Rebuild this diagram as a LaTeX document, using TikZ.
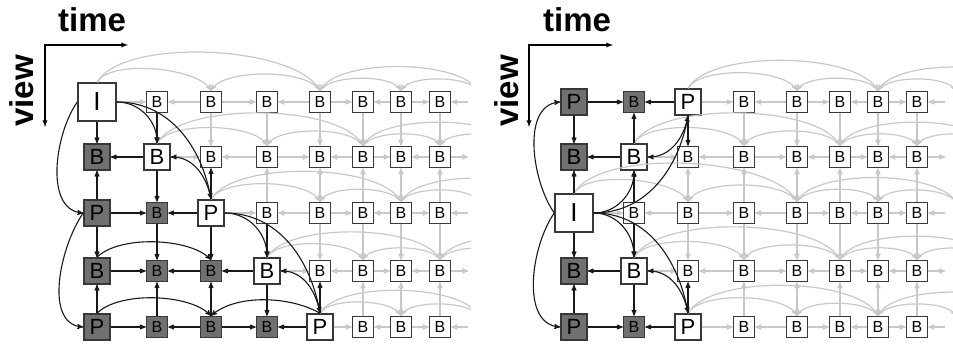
\documentclass[tikz,border=0pt]{standalone}
\usepackage{fontspec}
\setmainfont{Liberation Sans}
\usetikzlibrary{arrows}

\definecolor{lightline}{HTML}{C8C8C8}
\definecolor{framegrey}{HTML}{383838}
\definecolor{donefill}{HTML}{707070}

\tikzset{
  boxframe/.style={draw=framegrey, line width=1.5pt, fill=white, inner sep=0pt},
  smallframe/.style={boxframe, minimum size=21pt, font=\fontsize{16}{16}\selectfont},
  midframe/.style={boxframe, minimum size=26pt, font=\fontsize{22}{22}\selectfont},
  bigframe/.style={boxframe, minimum size=38pt, font=\fontsize{26}{26}\selectfont},
  greysmall/.style={smallframe, fill=donefill},
  greymid/.style={midframe, fill=donefill},
  ghost/.style={minimum size=21pt, inner sep=0pt},
  ref/.style={->, >=stealth', line width=1.1pt, draw=black!90},
  bgref/.style={->, >=stealth', line width=1.2pt, draw=lightline},
  axisline/.style={<->, >=latex, line width=1.3pt},
  axislabel/.style={font=\fontsize{33}{33}\selectfont\bfseries, inner sep=0pt},
}

\begin{document}
\begin{tikzpicture}[x=1pt, y=1pt]
  \useasboundingbox (0,0) rectangle (953,347);
  \def\colx{{97,157,211,267,320,363,401,440,479,518,557,596,635}}

  % axes
  \coordinate (L-time) at (128,302);
  \coordinate (L-view) at (45,220);
  \draw[axisline] (L-time) -| (L-view);
  \node[axislabel, anchor=base west] (L-timelabel) at (58,315) {time};
  \node[axislabel, anchor=base west, rotate=90] (L-viewlabel) at (33,220) {view};
  \coordinate (R-time) at (613,302);
  \coordinate (R-view) at (529,220);
  \draw[axisline] (R-time) -| (R-view);
  \node[axislabel, anchor=base west] (R-timelabel) at (543,315) {time};
  \node[axislabel, anchor=base west, rotate=90] (R-viewlabel) at (518,220) {view};

  % frames outside the picture
  \foreach \p/\dx in {L/0,R/477}
    \foreach \c in {8,...,12}
      \foreach \r/\y in {0/245,1/190,2/134,3/76,4/20} {
        \pgfmathsetmacro\xx{\colx[\c]+\dx}
        \node[ghost] (\p-\r-\c) at (\xx,\y) {};
      }

  % left panel
  \foreach \c/\st/\txt in {0/bigframe/I,1/smallframe/B,2/smallframe/B,3/smallframe/B,4/smallframe/B,5/smallframe/B,6/smallframe/B,7/smallframe/B}
    {\pgfmathsetmacro\xx{\colx[\c]} \node[\st] (L-0-\c) at (\xx,245) {\txt};}
  \foreach \c/\st/\txt in {0/greymid/B,1/midframe/B,2/smallframe/B,3/smallframe/B,4/smallframe/B,5/smallframe/B,6/smallframe/B,7/smallframe/B}
    {\pgfmathsetmacro\xx{\colx[\c]} \node[\st] (L-1-\c) at (\xx,190) {\txt};}
  \foreach \c/\st/\txt in {0/greymid/P,1/greysmall/B,2/midframe/P,3/smallframe/B,4/smallframe/B,5/smallframe/B,6/smallframe/B,7/smallframe/B}
    {\pgfmathsetmacro\xx{\colx[\c]} \node[\st] (L-2-\c) at (\xx,134) {\txt};}
  \foreach \c/\st/\txt in {0/greymid/B,1/greysmall/B,2/greysmall/B,3/midframe/B,4/smallframe/B,5/smallframe/B,6/smallframe/B,7/smallframe/B}
    {\pgfmathsetmacro\xx{\colx[\c]} \node[\st] (L-3-\c) at (\xx,76) {\txt};}
  \foreach \c/\st/\txt in {0/greymid/P,1/greysmall/B,2/greysmall/B,3/greysmall/B,4/midframe/P,5/smallframe/B,6/smallframe/B,7/smallframe/B}
    {\pgfmathsetmacro\xx{\colx[\c]} \node[\st] (L-4-\c) at (\xx,20) {\txt};}

  % right panel
  \foreach \c/\st/\txt in {0/greymid/P,1/greysmall/B,2/midframe/P,3/smallframe/B,4/smallframe/B,5/smallframe/B,6/smallframe/B,7/smallframe/B}
    {\pgfmathsetmacro\xx{\colx[\c]+477} \node[\st] (R-0-\c) at (\xx,245) {\txt};}
  \foreach \c/\st/\txt in {0/greymid/B,1/midframe/B,2/smallframe/B,3/smallframe/B,4/smallframe/B,5/smallframe/B,6/smallframe/B,7/smallframe/B}
    {\pgfmathsetmacro\xx{\colx[\c]+477} \node[\st] (R-1-\c) at (\xx,190) {\txt};}
  \foreach \c/\st/\txt in {0/bigframe/I,1/smallframe/B,2/smallframe/B,3/smallframe/B,4/smallframe/B,5/smallframe/B,6/smallframe/B,7/smallframe/B}
    {\pgfmathsetmacro\xx{\colx[\c]+477} \node[\st] (R-2-\c) at (\xx,134) {\txt};}
  \foreach \c/\st/\txt in {0/greymid/B,1/midframe/B,2/smallframe/B,3/smallframe/B,4/smallframe/B,5/smallframe/B,6/smallframe/B,7/smallframe/B}
    {\pgfmathsetmacro\xx{\colx[\c]+477} \node[\st] (R-3-\c) at (\xx,76) {\txt};}
  \foreach \c/\st/\txt in {0/greymid/P,1/greysmall/B,2/midframe/P,3/smallframe/B,4/smallframe/B,5/smallframe/B,6/smallframe/B,7/smallframe/B}
    {\pgfmathsetmacro\xx{\colx[\c]+477} \node[\st] (R-4-\c) at (\xx,20) {\txt};}

  % hierarchical B pictures in grey, one GOP of 8 per view
  \begin{scope}
    \clip (0,0) rectangle (471,347);
    \foreach \r/\s in {0/0,1/1,2/2,3/3,4/4}
      \foreach \t/\a/\b/\k in {1/0/2/0,2/0/4/1,3/2/4/0,4/0/8/1,5/4/6/0,6/4/8/1,7/6/8/0} {
        \pgfmathtruncatemacro\tc{\s+\t}
        \pgfmathtruncatemacro\sa{\s+\a}
        \pgfmathtruncatemacro\sb{\s+\b}
        \ifnum\k=0
          \draw[bgref] (L-\r-\sa) -- (L-\r-\tc);
          \draw[bgref] (L-\r-\sb) -- (L-\r-\tc);
        \else
          \draw[bgref] (L-\r-\sa.north) to[out=60,in=120,looseness=.6] (L-\r-\tc.north);
          \draw[bgref] (L-\r-\sb.north) to[out=120,in=60,looseness=.6] (L-\r-\tc.north);
        \fi
      }
    \foreach \c/\a/\b in {2/0/1,3/0/1,3/2/1,4/0/1,4/2/1,4/2/3,5/0/1,5/2/1,5/2/3,5/4/3,6/0/1,6/2/1,6/2/3,6/4/3,7/0/1,7/2/1,7/2/3,7/4/3}
      \draw[bgref] (L-\a-\c) -- (L-\b-\c);
  \end{scope}
  \begin{scope}
    \clip (478,0) rectangle (953,347);
    \foreach \r/\s in {0/2,1/1,2/0,3/1,4/2}
      \foreach \t/\a/\b/\k in {1/0/2/0,2/0/4/1,3/2/4/0,4/0/8/1,5/4/6/0,6/4/8/1,7/6/8/0} {
        \pgfmathtruncatemacro\tc{\s+\t}
        \pgfmathtruncatemacro\sa{\s+\a}
        \pgfmathtruncatemacro\sb{\s+\b}
        \ifnum\k=0
          \draw[bgref] (R-\r-\sa) -- (R-\r-\tc);
          \draw[bgref] (R-\r-\sb) -- (R-\r-\tc);
        \else
          \draw[bgref] (R-\r-\sa.north) to[out=60,in=120,looseness=.6] (R-\r-\tc.north);
          \draw[bgref] (R-\r-\sb.north) to[out=120,in=60,looseness=.6] (R-\r-\tc.north);
        \fi
      }
    \foreach \c/\a/\b in {2/2/1,2/2/3,3/0/1,3/2/1,3/2/3,3/4/3,4/0/1,4/2/1,4/2/3,4/4/3,5/0/1,5/2/1,5/2/3,5/4/3,6/0/1,6/2/1,6/2/3,6/4/3,7/0/1,7/2/1,7/2/3,7/4/3}
      \draw[bgref] (R-\a-\c) -- (R-\b-\c);
  \end{scope}

  % references of the frames decoded so far, left panel
  \draw[ref] (L-0-0) -- (L-1-0);
  \draw[ref] (L-2-0) -- (L-1-0);
  \draw[ref] (L-2-0) -- (L-3-0);
  \draw[ref] (L-4-0) -- (L-3-0);
  \draw[ref] (L-0-0.west) to[out=235,in=175,looseness=.9] (L-2-0.west);
  \draw[ref] (L-2-0.west) to[out=235,in=175,looseness=.9] (L-4-0.west);
  \draw[ref] (L-1-1) -- (L-1-0);
  \draw[ref] (L-0-1) -- (L-1-1);
  \draw[ref] (L-1-1) -- (L-2-1);
  \draw[ref] (L-2-1) -- (L-3-1);
  \draw[ref] (L-4-1) -- (L-3-1);
  \draw[ref] (L-2-0) -- (L-2-1);
  \draw[ref] (L-2-2) -- (L-2-1);
  \draw[ref] (L-3-0) -- (L-3-1);
  \draw[ref] (L-3-2) -- (L-3-1);
  \draw[ref] (L-4-0) -- (L-4-1);
  \draw[ref] (L-4-2) -- (L-4-1);
  \draw[ref] (L-0-0.east) to[out=0,in=90] (L-1-1.north);
  \draw[ref] (L-0-0.east) to[out=0,in=100] (L-2-2.north);
  \draw[ref] (L-2-2.north) to[out=100,in=0] (L-1-1.east);
  \draw[ref] (L-2-2) -- (L-1-2);
  \draw[ref] (L-2-2) -- (L-3-2);
  \draw[ref] (L-4-2) -- (L-3-2);
  \draw[ref] (L-3-0.north) to[out=45,in=135,looseness=.7] (L-3-2.north);
  \draw[ref] (L-4-0.north) to[out=45,in=135,looseness=.7] (L-4-2.north);
  \draw[ref] (L-4-4.north) to[out=150,in=40,looseness=.8] (L-4-2.north);
  \draw[ref] (L-3-3) -- (L-3-2);
  \draw[ref] (L-2-2.east) to[out=0,in=90] (L-3-3.north);
  \draw[ref] (L-2-2.east) to[out=0,in=100] (L-4-4.north);
  \draw[ref] (L-2-3) -- (L-3-3);
  \draw[ref] (L-3-3) -- (L-4-3);
  \draw[ref] (L-4-2) -- (L-4-3);
  \draw[ref] (L-4-4) -- (L-4-3);
  \draw[ref] (L-4-4.north) to[out=100,in=0] (L-3-3.east);
  \draw[ref] (L-4-4) -- (L-3-4);

  % references of the frames decoded so far, right panel
  \draw[ref] (R-0-0) -- (R-1-0);
  \draw[ref] (R-2-0) -- (R-1-0);
  \draw[ref] (R-2-0) -- (R-3-0);
  \draw[ref] (R-4-0) -- (R-3-0);
  \draw[ref] (R-2-0.west) to[out=125,in=185,looseness=.9] (R-0-0.west);
  \draw[ref] (R-2-0.west) to[out=235,in=175,looseness=.9] (R-4-0.west);
  \draw[ref] (R-0-0) -- (R-0-1);
  \draw[ref] (R-0-2) -- (R-0-1);
  \draw[ref] (R-1-1) -- (R-0-1);
  \draw[ref] (R-1-1) -- (R-1-0);
  \draw[ref] (R-0-2.south) to[out=260,in=0] (R-1-1.east);
  \draw[ref] (R-0-2) -- (R-1-2);
  \draw[ref] (R-2-0.east) to[out=0,in=270] (R-1-1.south);
  \draw[ref] (R-2-0.east) to[out=0,in=260] (R-0-2.south);
  \draw[ref] (R-2-1) -- (R-1-1);
  \draw[ref] (R-2-1) -- (R-3-1);
  \draw[ref] (R-2-0.east) to[out=0,in=90] (R-3-1.north);
  \draw[ref] (R-2-0.east) to[out=0,in=100] (R-4-2.north);
  \draw[ref] (R-3-1) -- (R-3-0);
  \draw[ref] (R-3-1) -- (R-4-1);
  \draw[ref] (R-4-0) -- (R-4-1);
  \draw[ref] (R-4-2) -- (R-4-1);
  \draw[ref] (R-4-2.north) to[out=100,in=0] (R-3-1.east);
  \draw[ref] (R-4-2) -- (R-3-2);
\end{tikzpicture}
\end{document}
